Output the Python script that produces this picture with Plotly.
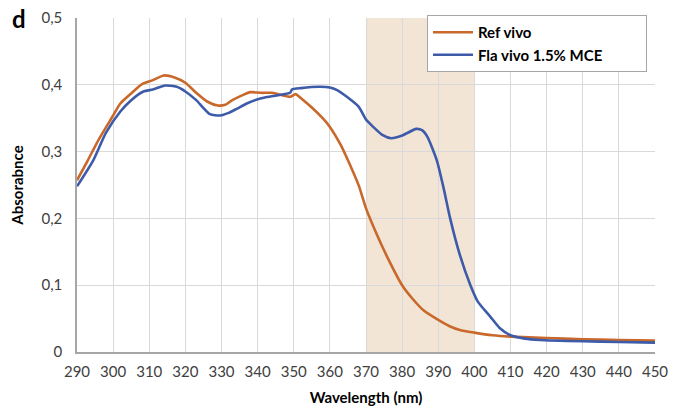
import plotly.graph_objects as go

# Ref vivo (orange)
ref_wl = [290, 293, 296, 300, 302, 305, 308, 311, 314, 317, 320, 323, 326, 329, 331, 333,
          336, 338, 341, 344, 347, 349, 350.5, 352, 355, 358, 360, 363, 365, 368, 370,
          373, 376, 380, 383, 386, 390, 393, 396, 400, 405, 410, 420, 430, 440, 450]
ref_abs = [0.257, 0.287, 0.318, 0.354, 0.372, 0.387, 0.401, 0.407, 0.414, 0.411, 0.403,
           0.388, 0.375, 0.369, 0.370, 0.377, 0.385, 0.389, 0.388, 0.388, 0.384, 0.382,
           0.386, 0.380, 0.366, 0.350, 0.337, 0.310, 0.287, 0.249, 0.215, 0.176, 0.141,
           0.100, 0.079, 0.062, 0.048, 0.039, 0.033, 0.029, 0.025, 0.023, 0.021, 0.019,
           0.018, 0.017]

# Fla vivo 1.5% MCE (blue)
fla_wl = [290, 294.5, 298, 302, 305, 308.4, 311, 314.4, 317.6, 320, 323, 326.8, 329.6,
          332, 334.2, 337, 339.8, 342, 345.3, 349, 349.5, 352, 357, 360, 362, 364.7, 368,
          370, 372, 374.5, 377, 380, 383.9, 385.5, 387, 389.6, 391.5, 393.3, 396, 398.9,
          401, 404.4, 407, 410, 414, 418, 430, 440, 450]
fla_abs = [0.248, 0.287, 0.328, 0.360, 0.377, 0.390, 0.393, 0.399, 0.397, 0.390, 0.377,
           0.356, 0.354, 0.358, 0.364, 0.372, 0.378, 0.381, 0.384, 0.388, 0.393, 0.395,
           0.397, 0.396, 0.392, 0.382, 0.367, 0.348, 0.337, 0.325, 0.320, 0.324, 0.334,
           0.332, 0.322, 0.287, 0.245, 0.200, 0.145, 0.100, 0.075, 0.053, 0.036, 0.025,
           0.020, 0.018, 0.016, 0.015, 0.014]

shade_start, shade_end = 370, 400

FONT = "Lato, 'Open Sans', sans-serif"
PAD = "\u00a0" * 10

fig = go.Figure()
fig.add_trace(go.Scatter(x=ref_wl, y=ref_abs, mode="lines", name="<b>Ref vivo</b>",
                         line=dict(color="#C8692B", width=2.6, shape="spline", smoothing=0.6)))
fig.add_trace(go.Scatter(x=fla_wl, y=fla_abs, mode="lines",
                         name="<b>Fla vivo 1.5% MCE</b>" + PAD,
                         line=dict(color="#3D5BA9", width=2.6, shape="spline", smoothing=0.6)))

fig.add_shape(type="rect", xref="x", yref="paper", x0=shade_start, x1=shade_end,
              y0=0, y1=1, fillcolor="#F3E5D6", line_width=0, layer="below")

fig.add_annotation(text="<b>d</b>", xref="paper", yref="paper", x=-0.1, y=1.0,
                   xanchor="center", yanchor="middle", showarrow=False,
                   font=dict(size=24, color="black", family=FONT))

fig.update_layout(
    width=682, height=409,
    margin=dict(l=77, r=27, t=18, b=57),
    paper_bgcolor="white", plot_bgcolor="white",
    separators=",.",
    font=dict(family=FONT, color="#404040", size=15),
    showlegend=True,
    legend=dict(x=0.6055, y=1.009, xanchor="left", yanchor="top",
                bgcolor="white", bordercolor="#A6A6A6", borderwidth=1,
                font=dict(size=15, color="black", family=FONT),
                tracegroupgap=0, itemwidth=40),
    xaxis=dict(range=[290, 450], dtick=10, tick0=290, showgrid=True, automargin=False,
               gridcolor="#D9D9D9", gridwidth=1, showline=True, linecolor="#A6A6A6",
               linewidth=1.5, ticks="", zeroline=False, ticklabelstandoff=5,
               tickfont=dict(size=15, color="#404040"),
               title=dict(text="<b>Wavelength (nm)</b>", standoff=14,
                          font=dict(size=15, color="black"))),
    yaxis=dict(range=[0, 0.5], dtick=0.1, showgrid=True, automargin=False,
               gridcolor="#D9D9D9", gridwidth=1, showline=True, linecolor="#A6A6A6",
               linewidth=1.5, ticks="", zeroline=False, ticklabelstandoff=10,
               tickfont=dict(size=15, color="#404040"),
               title=dict(text="<b>Absorabnce</b>", standoff=14,
                          font=dict(size=15, color="black"))),
)

fig.write_html("out.html")
